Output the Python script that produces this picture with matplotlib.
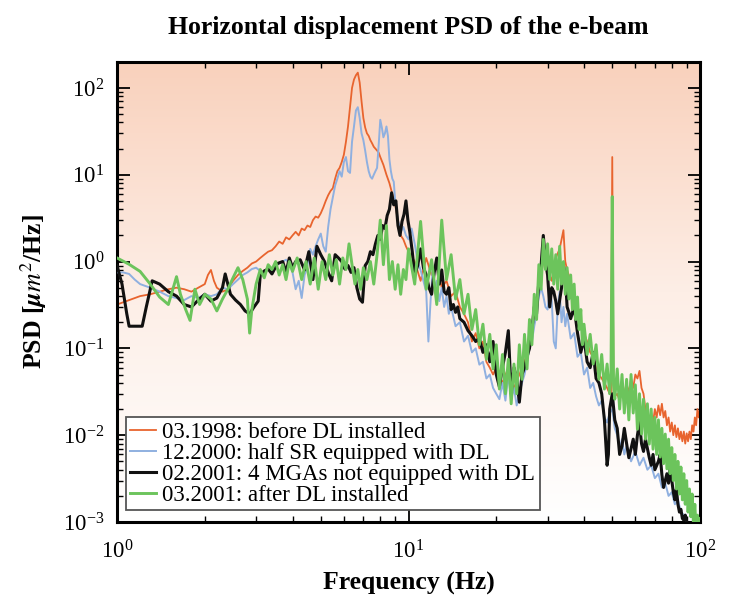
import numpy as np
import matplotlib
matplotlib.use("Agg")
import matplotlib.pyplot as plt
from matplotlib.colors import LinearSegmentedColormap

plt.rcParams['font.family'] = ['Liberation Serif', 'DejaVu Serif']
plt.rcParams['mathtext.fontset'] = 'stix'

# ---- data (frequency in Hz, PSD in um^2/Hz) ----
f_1998 = [1.0, 1.1, 1.2, 1.3, 1.4, 1.5, 1.6, 1.7, 1.8, 1.9, 2.0, 2.05, 2.1, 2.15, 2.2, 2.3, 2.4, 2.5,
          2.6, 2.7, 2.8, 2.9, 3.0, 3.1, 3.2, 3.3, 3.4, 3.5, 3.6, 3.7, 3.8, 3.9, 4.0, 4.1, 4.2, 4.3,
          4.4, 4.5, 4.6, 4.7, 4.8, 4.9, 5.0, 5.1, 5.2, 5.3, 5.4, 5.5, 5.6, 5.7, 5.8, 5.9, 6.0, 6.1,
          6.2, 6.3, 6.4, 6.5, 6.6, 6.7, 6.8, 6.9, 7.0, 7.1, 7.2, 7.3, 7.4, 7.5, 7.6, 7.7, 7.8, 7.9,
          8.0, 8.2, 8.4, 8.6, 8.8, 9.0, 9.2, 9.4, 9.6, 9.8, 10.0, 10.5, 11.0, 11.5, 12.0, 12.5,
          13.0, 13.5, 14.0, 14.5, 15.0, 15.5, 16.0, 16.5, 17.0, 17.5, 18.0, 18.5, 19.0, 19.5,
          20.0, 21.0, 22.0, 23.0, 24.0, 25.0, 26.0, 27.0, 28.0, 29.0, 30.0, 31.0, 32.0, 33.0,
          34.0, 34.5, 35.0, 36.0, 37.0, 38.0, 39.0, 40.0, 41.0, 42.0, 43.0, 44.0, 45.0, 46.0,
          47.0, 48.0, 49.0, 49.5, 50.0, 50.5, 51.0, 52.0, 53.0, 54.0, 55.0, 56.0, 57.0, 58.0,
          59.0, 60.0, 61.0, 62.0, 63.0, 64.0, 65.0, 66.0, 67.0, 68.0, 69.0, 70.0, 71.0, 72.0,
          73.0, 74.0, 75.0, 76.0, 77.0, 78.0, 79.0, 80.0, 81.0, 82.0, 83.0, 84.0, 85.0, 86.0,
          87.0, 88.0, 89.0, 90.0, 91.0, 92.0, 93.0, 94.0, 95.0, 96.0, 97.0, 98.0, 99.0, 100.0]
psd_1998 = [0.32, 0.36, 0.4, 0.42, 0.45, 0.48, 0.5, 0.48, 0.45, 0.5, 0.55, 0.7, 0.8, 0.6, 0.5, 0.45,
            0.48, 0.6, 0.7, 0.78, 0.85, 0.95, 1.0, 1.1, 1.2, 1.3, 1.35, 1.5, 1.7, 1.6, 1.9, 1.8,
            2.0, 2.2, 2.0, 2.4, 2.3, 2.6, 2.5, 3.0, 3.3, 3.2, 3.6, 4.2, 5.0, 5.8, 6.5, 7.0, 9.0,
            11, 12, 14, 17, 24, 36, 60, 100, 125, 140, 150, 115, 70, 45, 35, 30, 28, 25, 23, 21,
            20, 19, 18, 16, 13, 10, 8, 6, 4.5, 3, 2.0, 1.8, 1.5, 1.3, 1.0, 0.6, 1.1, 0.7, 0.9,
            0.5, 0.6, 0.4, 0.45, 0.3, 0.25, 0.2, 0.12, 0.15, 0.1, 0.12, 0.07, 0.06, 0.05,
            0.06, 0.04, 0.06, 0.035, 0.05, 0.07, 0.12, 0.25, 0.5, 1.0, 0.8, 0.6, 1.1, 1.4,
            2.3, 1.0, 0.8, 0.6, 0.4, 0.3, 0.2, 0.15, 0.12, 0.09, 0.08, 0.06, 0.05, 0.045,
            0.04, 0.035, 0.03, 0.03, 16, 0.03, 0.028, 0.03, 0.025, 0.035, 0.03, 0.04, 0.03, 0.045,
            0.035, 0.05, 0.045, 0.055, 0.035, 0.03, 0.02, 0.016, 0.013, 0.018, 0.014, 0.02, 0.016, 0.022,
            0.017, 0.023, 0.016, 0.019, 0.013, 0.016, 0.011, 0.014, 0.01, 0.013, 0.0095, 0.012, 0.009, 0.011,
            0.0085, 0.011, 0.008, 0.0105, 0.0085, 0.011, 0.009, 0.013, 0.011, 0.016, 0.013, 0.02, 0.016, 0.02]

f_2000 = [1.0, 1.05, 1.1, 1.15, 1.2, 1.3, 1.4, 1.5, 1.6, 1.7, 1.8, 1.9, 2.0, 2.1, 2.2, 2.3, 2.4, 2.5,
          2.6, 2.7, 2.8, 2.9, 3.0, 3.1, 3.2, 3.3, 3.4, 3.5, 3.6, 3.7, 3.8, 3.9, 4.0, 4.1, 4.2, 4.3,
          4.4, 4.5, 4.6, 4.7, 4.8, 4.9, 5.0, 5.1, 5.2, 5.3, 5.4, 5.5, 5.6, 5.7, 5.8, 5.9, 6.0, 6.1,
          6.2, 6.3, 6.4, 6.5, 6.6, 6.7, 6.8, 6.9, 7.0, 7.1, 7.2, 7.3, 7.4, 7.5, 7.6, 7.7, 7.8, 7.9,
          8.0, 8.1, 8.2, 8.3, 8.4, 8.5, 8.6, 8.7, 8.8, 8.9, 9.0, 9.2, 9.4, 9.6, 9.8, 10.0, 10.25,
          10.5, 10.75, 11.0, 11.25, 11.5, 11.7, 11.9, 12.1, 12.3, 12.5, 12.75, 13.0, 13.25, 13.5,
          13.75, 14.0, 14.5, 15.0, 15.5, 16.0, 16.5, 17.0, 17.5, 18.0, 18.5, 19.0, 19.5, 20.0,
          20.5, 21.0, 21.5, 22.0, 22.5, 23.0, 23.5, 24.0, 24.5, 25.0, 25.5, 26.0, 26.5, 27.0,
          27.5, 28.0, 28.5, 29.0, 29.5, 30.0, 30.5, 31.0, 31.5, 32.0, 32.5, 33.0, 33.5, 34.0,
          34.5, 35.0, 36.0, 37.0, 38.0, 39.0, 40.0, 41.0, 42.0, 43.0, 44.0, 45.0, 46.0, 47.0,
          48.0, 49.0, 50.0, 51.0, 52.0, 53.0, 54.0, 55.0, 56.0, 58.0, 60.0, 62.0, 64.0, 66.0,
          68.0, 70.0, 72.0, 74.0, 76.0, 78.0, 80.0, 82.0, 84.0, 86.0, 88.0, 90.0, 92.0]
psd_2000 = [0.75, 0.75, 0.72, 0.62, 0.55, 0.5, 0.45, 0.4, 0.38, 0.36, 0.4, 0.38, 0.42, 0.4, 0.42, 0.5,
            0.48, 0.55, 0.62, 0.7, 0.75, 0.82, 0.85, 0.78, 0.7, 0.85, 0.8, 0.9, 0.95, 1.0, 1.05, 0.95,
            0.75, 0.48, 0.6, 0.38, 0.7, 0.9, 1.4, 1.2, 1.5, 1.8, 2.1, 1.5, 1.3, 2.5, 4.0, 5.5, 7.5,
            9.0, 11, 9.5, 14, 16, 11, 10.5, 24, 36, 55, 60, 45, 30, 25, 19, 14, 11, 9.5, 9.0, 10,
            11, 12, 22, 43, 35, 27, 30, 36, 28, 15, 11, 9, 8.3, 5, 3, 2.2, 2.5, 2.0, 1.8, 2.4,
            1.6, 1.0, 0.8, 0.6, 0.45, 0.12, 0.35, 0.8, 0.5, 0.6, 0.35, 0.5, 0.3, 0.4,
            0.25, 0.3, 0.18, 0.2, 0.12, 0.14, 0.09, 0.1, 0.065, 0.07, 0.045, 0.05, 0.035, 0.03,
            0.026, 0.04, 0.025, 0.05, 0.026, 0.035, 0.022, 0.03, 0.04, 0.05, 0.07, 0.1, 0.12, 0.18,
            0.25, 0.4, 0.5, 0.4, 0.3, 0.28, 0.45, 0.35, 0.12, 0.1, 0.3, 0.45, 0.2, 0.3,
            0.18, 0.25, 0.13, 0.15, 0.08, 0.09, 0.05, 0.06, 0.035, 0.04, 0.028, 0.022, 0.025, 0.016,
            0.014, 0.018, 0.02, 0.012, 0.01, 0.007, 0.009, 0.006, 0.0075, 0.005, 0.0065, 0.0045, 0.0055, 0.004,
            0.0045, 0.0032, 0.0036, 0.0025, 0.0028, 0.002, 0.0022, 0.0016, 0.0018, 0.0013, 0.0012, 0.001, 0.0009]

f_2001a = [1.0, 1.04, 1.08, 1.1, 1.15, 1.22, 1.26, 1.32, 1.4, 1.5, 1.6, 1.7, 1.8, 1.9, 2.0, 2.1, 2.2,
           2.3, 2.35, 2.45, 2.55, 2.65, 2.75, 2.85, 2.95, 3.05, 3.1, 3.2, 3.3, 3.4, 3.55, 3.7, 3.8,
           3.9, 4.0, 4.1, 4.25, 4.4, 4.55, 4.7, 4.85, 5.0, 5.15, 5.3, 5.45, 5.6, 5.75, 5.9, 6.05,
           6.2, 6.35, 6.5, 6.65, 6.8, 6.95, 7.1, 7.25, 7.4, 7.55, 7.7, 7.85, 8.0, 8.15, 8.3, 8.45,
           8.6, 8.75, 8.9, 9.05, 9.2, 9.35, 9.5, 9.65, 9.8, 9.95, 10.1, 10.3, 10.5, 10.75, 11.0,
           11.25, 11.5, 11.75, 12.0, 12.25, 12.5, 12.75, 13.0, 13.25, 13.5, 13.75, 14.0, 14.25,
           14.5, 14.75, 15.0, 15.5, 16.0, 16.5, 17.0, 17.5, 18.0, 18.5, 19.0, 19.5, 20.0, 20.5,
           21.0, 21.5, 22.0, 22.5, 23.0, 23.5, 24.0, 24.5, 25.0, 25.5, 26.0, 26.5, 27.0, 27.5,
           28.0, 28.5, 29.0, 29.5, 30.0, 30.5, 31.0, 31.5, 32.0, 32.5, 33.0, 33.5, 34.0, 34.5,
           35.0, 35.5, 36.0, 37.0, 38.0, 39.0, 40.0, 41.0, 42.0, 43.0, 44.0, 45.0, 46.0, 47.0,
           48.0, 48.5, 49.0, 50.0, 51.0, 52.0, 53.0, 54.0, 55.0, 56.0, 57.0, 58.0, 59.0, 60.0,
           61.0, 62.0, 63.0, 64.0, 65.0, 66.0, 67.0, 68.0, 69.0, 70.0, 72.0, 73.0, 74.0, 75.0,
           76.0, 77.0, 78.0, 79.0, 80.0, 81.0, 82.0, 83.0, 84.0, 85.0, 86.0, 87.0, 88.0, 89.0,
           90.0, 91.0]
psd_2001a = [0.9, 0.55, 0.25, 0.18, 0.18, 0.18, 0.3, 0.6, 0.55, 0.45, 0.4, 0.32, 0.3, 0.36, 0.42,
             0.35, 0.38, 0.5, 0.72, 0.42, 0.36, 0.32, 0.27, 0.25, 0.3, 0.35, 0.7, 0.78, 0.82, 0.72,
             0.95, 1.0, 0.75, 1.1, 0.85, 1.0, 1.05, 0.8, 1.3, 0.62, 1.5, 1.2, 1.0, 0.75, 0.6, 1.2,
             1.1, 1.0, 0.82, 0.9, 0.75, 0.85, 0.5, 0.37, 0.34, 0.9, 1.0, 1.3, 1.2, 1.6, 2.0, 1.8,
             2.6, 2.4, 3.4, 4.0, 6.2, 4.5, 5.0, 2.6, 2.0, 2.9, 3.5, 5.0, 3.0, 2.2, 1.3, 0.7, 0.9,
             1.4, 0.85, 0.7, 0.5, 0.42, 0.75, 1.1, 0.55, 0.8, 0.45, 0.42, 0.5, 0.28, 0.32, 0.26,
             0.3, 0.22, 0.2, 0.16, 0.14, 0.12, 0.13, 0.09, 0.11, 0.07, 0.12, 0.05, 0.036, 0.06,
             0.09, 0.16, 0.03, 0.06, 0.045, 0.024, 0.05, 0.06, 0.08, 0.1, 0.16, 0.3, 0.25, 0.6,
             0.9, 2.0, 1.0, 0.7, 0.3, 0.5, 0.45, 0.35, 0.25, 0.36, 0.5, 0.9, 0.7, 0.3, 0.26, 0.22,
             0.3, 0.15, 0.09, 0.13, 0.07, 0.06, 0.09, 0.045, 0.04, 0.03, 0.015, 0.0045, 0.006,
             0.02, 0.03, 0.015, 0.012, 0.006, 0.0075, 0.012, 0.008, 0.0055, 0.007, 0.009, 0.006,
             0.01, 0.014, 0.008, 0.0065, 0.009, 0.007, 0.0055, 0.0045, 0.006, 0.004, 0.005, 0.006,
             0.0035, 0.0025, 0.003, 0.0036, 0.0028, 0.0042, 0.003, 0.0022, 0.0018, 0.0024, 0.0016,
             0.0013, 0.0014, 0.0011, 0.00105, 0.0012, 0.001, 0.0009]

f_2001b = [1.0, 1.1, 1.2, 1.3, 1.4, 1.5, 1.6, 1.65, 1.72, 1.78, 1.85, 1.92, 2.0, 2.1, 2.2, 2.3, 2.4,
           2.5, 2.6, 2.7, 2.8, 2.85, 2.9, 3.0, 3.1, 3.2, 3.3, 3.4, 3.5, 3.6, 3.7, 3.8, 3.9, 4.0,
           4.15, 4.3, 4.45, 4.6, 4.75, 4.9, 5.05, 5.2, 5.35, 5.5, 5.65, 5.8, 5.95, 6.1, 6.25, 6.4,
           6.55, 6.7, 6.85, 7.0, 7.2, 7.4, 7.6, 7.8, 8.0, 8.2, 8.4, 8.6, 8.8, 9.0, 9.2, 9.4, 9.6,
           9.8, 10.0, 10.5, 11.0, 11.5, 12.0, 12.5, 13.0, 13.5, 14.0, 14.5, 15.0, 15.5, 16.0, 16.5,
           17.0, 17.5, 18.0, 18.5, 19.0, 19.5, 20.0, 20.5, 21.0, 21.5, 22.0, 22.5, 23.0, 23.5,
           24.0, 24.5, 25.0, 25.5, 26.0, 26.5, 27.0, 27.5, 28.0, 28.5, 29.0, 29.5, 30.0, 30.5,
           31.0, 31.5, 32.0, 32.5, 33.0, 33.5, 34.0, 34.5, 35.0, 35.5, 36.0, 36.5, 37.0, 37.5,
           38.0, 38.5, 39.0, 39.5, 40.0, 41.0, 42.0, 43.0, 44.0, 45.0, 46.0, 47.0, 48.0, 49.0,
           49.5, 50.0, 50.5, 51.0, 52.0, 53.0, 54.0, 55.0, 56.0, 57.0, 58.0, 59.0, 60.0, 61.0,
           62.0, 63.0, 64.0, 65.0, 66.0, 67.0, 68.0, 69.0, 70.0, 71.0, 72.0, 73.0, 74.0, 75.0,
           76.0, 77.0, 78.0, 79.0, 80.0, 81.0, 82.0, 83.0, 84.0, 85.0, 86.0, 87.0, 88.0, 89.0,
           90.0, 91.0, 92.0, 93.0, 94.0, 95.0, 96.0, 97.0, 98.0, 99.0, 100.0]
psd_2001b = [1.1, 0.93, 0.77, 0.55, 0.39, 0.32, 0.67, 0.42, 0.28, 0.21, 0.48, 0.32, 0.42, 0.37, 0.27,
             0.37, 0.48, 0.65, 0.85, 0.62, 0.37, 0.15, 0.28, 0.55, 0.81, 0.65, 0.92, 0.81, 1.0, 0.7,
             0.92, 0.62, 1.0, 0.77, 1.1, 0.62, 1.0, 0.55, 1.1, 0.48, 1.0, 0.62, 1.2, 0.7, 1.05, 0.55,
             1.1, 0.81, 1.6, 0.92, 0.55, 0.81, 0.48, 0.85, 0.62, 1.0, 0.55, 1.2, 3.0, 0.92, 2.6,
             0.62, 1.0, 0.48, 0.92, 0.42, 0.81, 0.62, 1.4, 0.55, 2.9, 0.48, 1.05, 0.32, 3.0, 0.62,
             1.2, 0.37, 0.62, 0.25, 0.42, 0.165, 0.28, 0.11, 0.19, 0.075, 0.145, 0.058, 0.11,
             0.034, 0.085, 0.03, 0.075, 0.023, 0.066, 0.03, 0.11, 0.044, 0.145, 0.058, 0.215,
             0.11, 0.42, 0.215, 0.92, 0.48, 1.8, 0.81, 1.6, 0.62, 1.4, 0.55, 1.2, 0.48, 1.5, 0.55,
             1.0, 0.42, 0.85, 0.37, 0.7, 0.28, 0.55, 0.215, 0.39, 0.165, 0.28, 0.11, 0.19, 0.085,
             0.145, 0.066, 0.11, 0.044, 0.085, 0.034, 0.066, 0.03, 0.05, 5.6, 0.038, 0.026, 0.058,
             0.02, 0.05, 0.018, 0.044, 0.015, 0.05, 0.018, 0.038, 0.0117, 0.03, 0.0103, 0.026,
             0.009, 0.023, 0.0079, 0.02, 0.0069, 0.016, 0.006, 0.015, 0.0056, 0.012, 0.0047,
             0.0103, 0.0041, 0.009, 0.0036, 0.0072, 0.003, 0.006, 0.0024, 0.005, 0.0021, 0.0043,
             0.0018, 0.0036, 0.0016, 0.003, 0.0013, 0.0024, 0.00115, 0.0021, 0.0009, 0.0016,
             0.0008, 0.0012, 0.0008, 0.0011]

labels = ['03.1998: before DL installed',
          '12.2000: half SR equipped with DL',
          '02.2001: 4 MGAs not equipped with DL',
          '03.2001: after DL installed']

fig = plt.figure(figsize=(7.37, 6.0), dpi=100)
ax = fig.add_axes([0.1588, 0.13, 0.791, 0.767])

# peach-to-white background
bg = LinearSegmentedColormap.from_list('bg', ['#ffffff', '#fdeee6', '#f9d1bc'])
ax.imshow(np.linspace(0, 1, 256).reshape(-1, 1), extent=[0, 1, 0, 1], origin='lower',
          transform=ax.transAxes, aspect='auto', cmap=bg, zorder=0)

ax.plot(f_1998, psd_1998, color='#e8642e', lw=1.3, label=labels[0], zorder=2)
ax.plot(f_2000, psd_2000, color='#8fb0e0', lw=1.4, label=labels[1], zorder=3)
ax.plot(f_2001a, psd_2001a, color='#111111', lw=2.2, label=labels[2], zorder=4)
ax.plot(f_2001b, psd_2001b, color='#6cc45c', lw=2.1, label=labels[3], zorder=5)

ax.set_xscale('log')
ax.set_yscale('log')
ax.set_xlim(1, 100)
ax.set_ylim(1e-3, 2e2)

ax.tick_params(which='both', direction='in', top=True, right=True, labelsize=16.5)
ax.tick_params(which='major', length=9, width=1.3)
ax.tick_params(which='minor', length=4.5, width=1.0)
ax.tick_params(axis='x', pad=13)
ax.tick_params(axis='y', pad=9)
for s in ax.spines.values():
    s.set_linewidth(2.2)

ax.set_title('Horizontal displacement PSD of the e-beam', fontsize=18.5, fontweight='bold', pad=20)
ax.set_xlabel('Frequency (Hz)', fontsize=18.5, fontweight='bold', labelpad=6)
ax.set_ylabel(r'PSD [$\boldsymbol{\mu m^2}$/Hz]', fontsize=18.5, fontweight='bold', labelpad=10)

leg = ax.legend(loc='lower left', bbox_to_anchor=(0.015, 0.025), fancybox=False, framealpha=1,
                edgecolor='#555555', fontsize=16.5, handlelength=1.1, handletextpad=0.3,
                borderpad=0.2, labelspacing=0.0, borderaxespad=0)
leg.get_frame().set_linewidth(1.3)
leg.set_zorder(10)

fig.savefig('out.png', dpi=100)
